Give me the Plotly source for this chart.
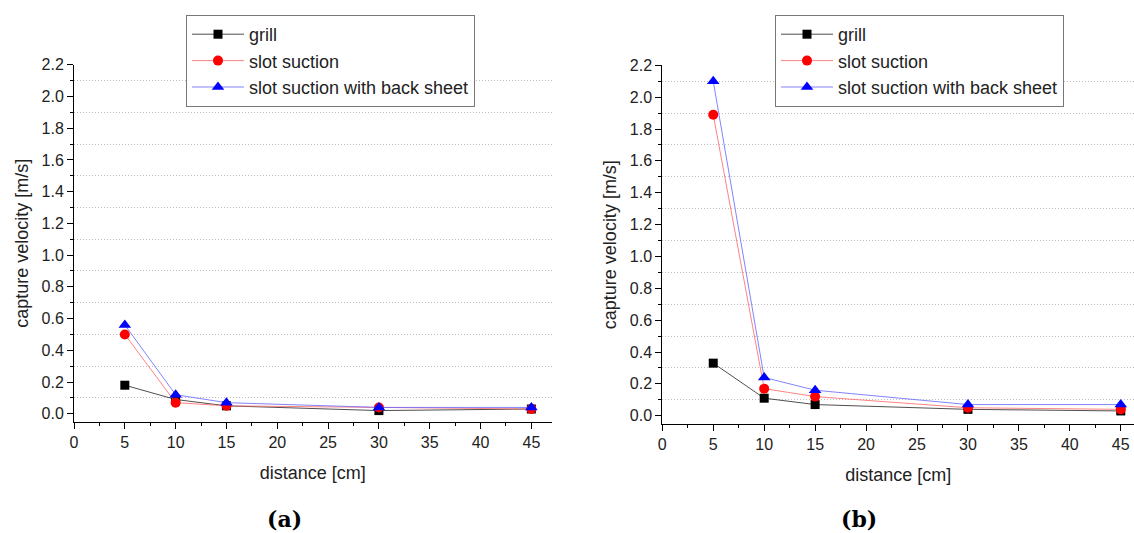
import plotly.graph_objects as go

distance = [5, 10, 15, 30, 45]
series_names = ["grill", "slot suction", "slot suction with back sheet"]

# panel (a)
a_grill = [0.18, 0.09, 0.05, 0.02, 0.03]
a_slot = [0.50, 0.07, 0.05, 0.04, 0.03]
a_back = [0.56, 0.12, 0.07, 0.04, 0.04]

# panel (b)
b_grill = [0.33, 0.11, 0.07, 0.04, 0.03]
b_slot = [1.89, 0.17, 0.12, 0.05, 0.04]
b_back = [2.10, 0.24, 0.16, 0.07, 0.07]

panel_labels = ["(a)", "(b)"]

W, H = 1134, 533
FONT = "Liberation Sans, Arial, sans-serif"

styles = [
    dict(line=dict(color="rgba(60,60,60,0.9)", width=1), marker=dict(symbol="square", color="black", size=9)),
    dict(line=dict(color="rgba(255,100,100,0.8)", width=1), marker=dict(symbol="circle", color="red", size=10)),
    dict(line=dict(color="rgba(100,100,255,0.8)", width=1), marker=dict(symbol="triangle-up", color="blue", size=11)),
]

fig = go.Figure()
panels = [(a_grill, a_slot, a_back), (b_grill, b_slot, b_back)]
for p, data in enumerate(panels):
    xa = "x" if p == 0 else "x2"
    ya = "y" if p == 0 else "y2"
    lg = "legend" if p == 0 else "legend2"
    for s, vals in enumerate(data):
        fig.add_trace(go.Scatter(
            x=distance, y=vals, mode="lines+markers", name=series_names[s],
            xaxis=xa, yaxis=ya, legend=lg, cliponaxis=False, **styles[s]))

def px_x(v):
    return v / W

def px_y(v):
    return (H - v) / H

TICKFONT = dict(family=FONT, size=16, color="#222")
TITLEFONT = dict(family=FONT, size=18, color="#222")

axis_common = dict(
    showline=True, linecolor="black", linewidth=1, ticks="outside", ticklen=6,
    tickcolor="black", tickfont=TICKFONT, automargin=False,
    zeroline=False, showgrid=False,
)

xminor = dict(dtick=2.5, ticks="outside", ticklen=3, tickcolor="black")
yminor = dict(dtick=0.1, ticks="outside", ticklen=3, tickcolor="black",
              showgrid=True, gridcolor="#bdbdbd", griddash="1px,2px", gridwidth=1)

legend_common = dict(
    xanchor="left", yanchor="top", bgcolor="white", bordercolor="#777", borderwidth=1,
    font=dict(family=FONT, size=18, color="#222"), tracegroupgap=0, itemwidth=52,
)

fig.update_layout(
    width=W, height=H, margin=dict(l=0, r=0, t=0, b=0),
    plot_bgcolor="white", paper_bgcolor="white",
    font=dict(family=FONT, color="#222"),
    xaxis=dict(domain=[px_x(74), px_x(551.7)], range=[0, 47], anchor="y",
               tick0=0, dtick=5, minor=xminor,
               title=dict(text="distance [cm]", font=TITLEFONT, standoff=16),
               **axis_common),
    yaxis=dict(domain=[px_y(421.7), px_y(64.7)], range=[-0.05, 2.2], anchor="x",
               tick0=0, dtick=0.2, tickformat=".1f", minor=yminor,
               title=dict(text="capture velocity [m/s]", font=TITLEFONT, standoff=8),
               **axis_common),
    xaxis2=dict(domain=[px_x(662.3), 1.0], range=[0, 46.3], anchor="y2",
                tick0=0, dtick=5, minor=xminor,
                title=dict(text="distance [cm]", font=TITLEFONT, standoff=16),
                **axis_common),
    yaxis2=dict(domain=[px_y(424), px_y(65.3)], range=[-0.052, 2.2], anchor="x2",
                tick0=0, dtick=0.2, tickformat=".1f", minor=yminor,
                title=dict(text="capture velocity [m/s]", font=TITLEFONT, standoff=8),
                **axis_common),
    legend=dict(x=px_x(186), y=px_y(15), **legend_common),
    legend2=dict(x=px_x(775), y=px_y(15), **legend_common),
    annotations=[
        dict(text="<b>%s</b>" % panel_labels[0], x=px_x(284), y=px_y(519), xref="paper", yref="paper",
             xanchor="center", yanchor="middle",
             showarrow=False, font=dict(family="DejaVu Serif, serif", size=22, color="black")),
        dict(text="<b>%s</b>" % panel_labels[1], x=px_x(859), y=px_y(519), xref="paper", yref="paper",
             xanchor="center", yanchor="middle",
             showarrow=False, font=dict(family="DejaVu Serif, serif", size=22, color="black")),
    ],
)

fig.write_html("out.html", config={"displayModeBar": False},
               post_script="document.body.style.margin='0';document.body.style.overflow='hidden';")
